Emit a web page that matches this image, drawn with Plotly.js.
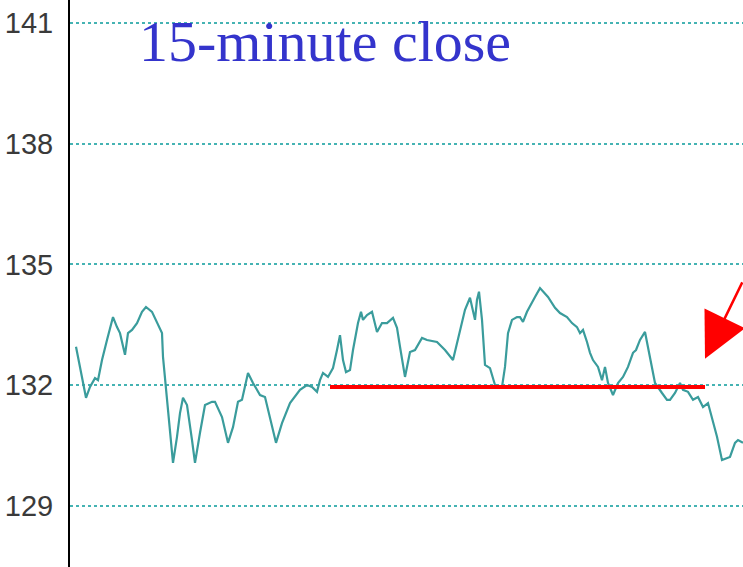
<!DOCTYPE html>
<html>
<head>
<meta charset="utf-8">
<script src="https://cdn.plot.ly/plotly-3.0.1.min.js"></script>
<style>html,body{margin:0;padding:0;background:#fff;}#chart{width:743px;height:567px;}</style>
</head>
<body>
<div id="chart"></div>
<script>
// time index (bars since left edge of the plot)
const timeIdx = [6,10,13,16,20,25,28,32,37,43,47,50,55,58,62,67,72,76,82,87,92,93,96,98,103,107,110,113,117,122,125,130,135,142,145,152,158,163,168,172,178,183,190,195,200,206,212,220,230,237,242,247,250,253,258,263,267,270,273,276,280,283,288,291,293,297,302,307,312,317,323,327,330,335,340,345,352,357,367,375,383,390,395,400,403,405,407,409,412,415,420,425,432,435,438,442,447,450,453,457,465,470,478,485,490,497,502,507,510,513,517,520,523,528,532,535,538,543,548,553,558,563,566,570,575,580,585,592,597,600,605,610,613,618,623,628,633,638,642,647,652,660,665,668,673];
// 15-minute closing prices
const closePrice = [132.95,132.45,132.05,131.68,131.95,132.17,132.12,132.62,133.12,133.69,133.44,133.29,132.75,133.29,133.37,133.54,133.82,133.94,133.82,133.54,133.29,132.70,131.88,131.30,130.06,130.71,131.30,131.68,131.50,130.63,130.06,130.81,131.50,131.58,131.58,131.20,130.56,130.95,131.58,131.63,132.30,132.05,131.75,131.70,131.20,130.56,131.05,131.55,131.88,132.00,131.95,131.83,132.12,132.30,132.20,132.42,132.87,133.24,132.62,132.32,132.37,132.87,133.54,133.82,133.62,133.74,133.82,133.32,133.54,133.54,133.67,133.42,132.95,132.20,132.82,132.87,133.17,133.12,133.07,132.87,132.62,133.37,133.87,134.17,133.87,133.62,134.12,134.32,133.62,132.50,132.42,132.00,131.95,132.45,133.29,133.62,133.69,133.69,133.57,133.82,134.19,134.41,134.19,133.92,133.79,133.69,133.54,133.44,133.29,133.37,133.07,132.80,132.62,132.45,132.12,132.45,132.05,131.75,132.05,132.20,132.45,132.80,132.87,133.12,133.32,132.70,132.05,131.80,131.63,131.63,131.80,132.05,131.88,131.83,131.63,131.70,131.45,131.55,131.20,130.71,130.13,130.21,130.56,130.63,130.56,130.13,129.81];
// support level drawn in red
const supportLevel = 131.95;
const supportStart = 260;
const supportEnd = 635;
// arrow pointing at the break
const arrowTip = {t: 635, price: 132.65};
const priceTicks = [129, 132, 135, 138, 141];
const priceTickText = ['129', '132', '135', '138', '141'];
const titleText = '15-minute close';

const traces = [
  {
    x: timeIdx, y: closePrice, type: 'scatter', mode: 'lines',
    line: {color: '#3a9c9c', width: 2.2}, hoverinfo: 'skip'
  },
  {
    x: [supportStart, supportEnd], y: [supportLevel, supportLevel],
    type: 'scatter', mode: 'lines',
    line: {color: '#ff0000', width: 4}, hoverinfo: 'skip'
  }
];

const layout = {
  width: 743, height: 567,
  margin: {l: 70, r: 0, t: 0, b: 0, pad: 0},
  paper_bgcolor: '#ffffff', plot_bgcolor: '#ffffff',
  showlegend: false,
  xaxis: {
    range: [0, 673], showgrid: false, zeroline: false,
    showticklabels: false, ticks: '', showline: false, fixedrange: true
  },
  yaxis: {
    range: [127.47, 141.58],
    tickvals: priceTicks, ticktext: priceTickText,
    tickfont: {family: '"Liberation Sans", Arial, sans-serif', size: 29, color: '#3a3a3a'},
    ticks: '', ticklabelstandoff: 9,
    showgrid: true, gridcolor: '#45b3b3', gridwidth: 2, griddash: 'dot',
    zeroline: false,
    showline: true, linecolor: '#000000', linewidth: 2,
    fixedrange: true
  },
  annotations: [
    {
      xref: 'paper', yref: 'paper', x: 0.100, y: 0.987,
      xanchor: 'left', yanchor: 'top', showarrow: false,
      text: titleText,
      font: {family: '"Liberation Serif", "Times New Roman", serif', size: 58, color: '#3434cc'}
    },
    {
      x: arrowTip.t, y: arrowTip.price, xref: 'x', yref: 'y',
      text: '', showarrow: true, arrowhead: 2, arrowsize: 3.6, arrowwidth: 2.5,
      arrowcolor: '#ff0000', ax: 50, ay: -78, standoff: 0
    }
  ]
};

Plotly.newPlot('chart', traces, layout, {displayModeBar: false, staticPlot: true});
</script>
</body>
</html>
